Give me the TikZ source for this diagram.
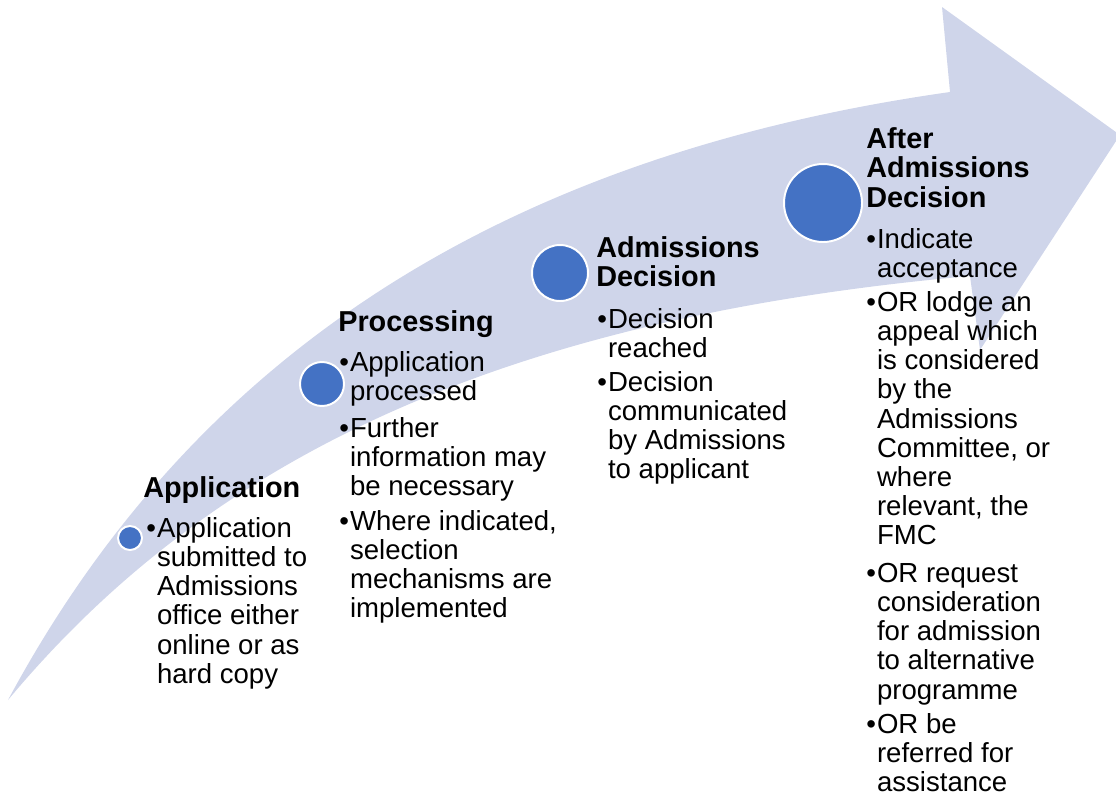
\documentclass[tikz,border=0pt]{standalone}
\usepackage{fontspec}
\setmainfont{Liberation Sans}
\definecolor{bandfill}{HTML}{CFD5EA}
\definecolor{dotfill}{HTML}{4472C4}
\def\lines#1{\begin{tabular}[t]{@{}l@{}}#1\end{tabular}}
\def\bul#1{\textbullet\kern0.8pt\lines{#1}}

\begin{document}
\begin{tikzpicture}[x=0.025cm, y=-0.025cm,
		dot/.style={circle, fill=dotfill, draw=white, line width=1.4pt, inner sep=0pt},
		head/.style={anchor=base west, inner sep=0pt, font=\fontsize{20.5}{20.8}\selectfont\bfseries},
		item/.style={anchor=base west, inner sep=0pt, font=\fontsize{19.6}{20.8}\selectfont}]
		%%%%% START %%%%%
		\useasboundingbox (0, 0) rectangle (1116, 796);
		
		% the band
		\fill[bandfill] (8, 700) .. controls (180, 380) and (470, 160) .. (950, 92) -- (942, 7) -- (1120, 135) -- (980, 350) -- (970, 276) .. controls (480, 320) and (200, 470) .. (8, 700) -- cycle;
		
		% the dots
		\node[dot, minimum size=24*0.025cm] (app) at (130, 538) {};
		\node[dot, minimum size=44*0.025cm] (proc) at (322, 384) {};
		\node[dot, minimum size=56*0.025cm] (dec) at (560, 273) {};
		\node[dot, minimum size=78*0.025cm] (after) at (823, 203) {};
		
		% Application
		\node[head] (app-title) at (143, 497) {Application};
		\node[item] (app-1) at (146, 537) {\bul{Application\\submitted to\\Admissions\\office either\\online or as\\hard copy}};
		
		% Processing
		\node[head] (proc-title) at (338, 331) {Processing};
		\node[item] (proc-1) at (339, 371) {\bul{Application\\processed}};
		\node[item] (proc-2) at (339, 437) {\bul{Further\\information may\\be necessary}};
		\node[item] (proc-3) at (339, 530) {\bul{Where indicated,\\selection\\mechanisms are\\implemented}};
		
		% Admissions Decision
		\node[head] (dec-title) at (596, 257) {\lines{Admissions\\Decision}};
		\node[item] (dec-1) at (597, 328) {\bul{Decision\\reached}};
		\node[item] (dec-2) at (597, 391) {\bul{Decision\\communicated\\by Admissions\\to applicant}};
		
		% After Admissions Decision
		\node[head] (after-title) at (866, 148) {\lines{After\\Admissions\\Decision}};
		\node[item] (after-1) at (866, 248) {\bul{Indicate\\acceptance}};
		\node[item] (after-2) at (866, 311) {\bul{OR lodge an\\appeal which\\is considered\\by the\\Admissions\\Committee, or\\where\\relevant, the\\FMC}};
		\node[item] (after-3) at (866, 582) {\bul{OR request\\consideration\\for admission\\to alternative\\programme}};
		\node[item] (after-4) at (866, 733) {\bul{OR be\\referred for\\assistance}};
		%%%%% END %%%%%
\end{tikzpicture}
\end{document}
